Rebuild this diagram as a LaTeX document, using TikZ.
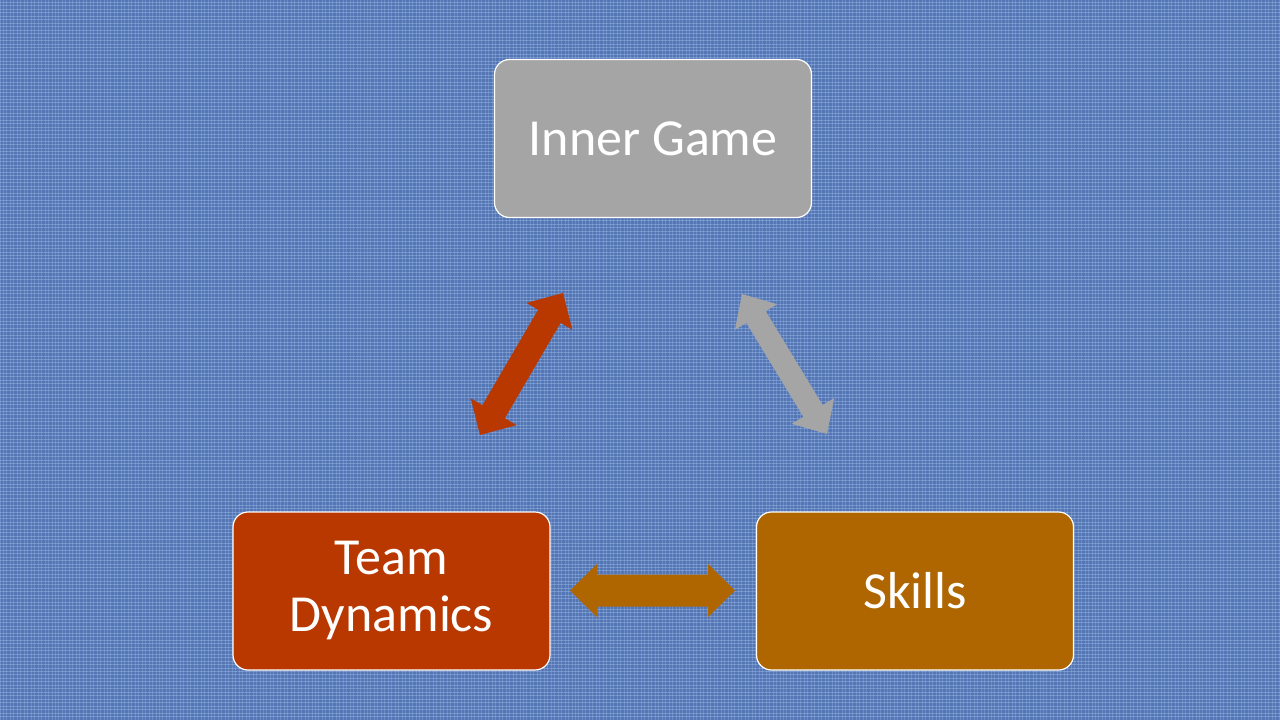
\documentclass[tikz,border=0pt]{standalone}
\usepackage{fontspec}
\setmainfont{Carlito}
\usetikzlibrary{calc,patterns.meta}
\definecolor{bgblue}{RGB}{84,118,180}
\definecolor{bglight}{RGB}{160,190,235}
\definecolor{boxgray}{RGB}{165,165,165}
\definecolor{boxred}{RGB}{184,56,0}
\definecolor{boxorange}{RGB}{176,102,0}
\tikzset{
  box/.style={draw=white, line width=0.9pt, rounded corners=11.25pt,
    minimum width=237.75pt, minimum height=118.5pt, inner sep=0pt,
    text=white, align=center,
    font=\fontsize{39}{42.75}\selectfont}
}
% #1 tip A, #2 tip B, #3 shaft half width, #4 head half width, #5 head length, #6 colour
\newcommand{\dblockarrow}[6]{%
  \fill[#6] (#1)
    -- ($(#1)!#5!(#2)!#4!90:(#2)$)
    -- ($(#1)!#5!(#2)!#3!90:(#2)$)
    -- ($(#2)!#5!(#1)!#3!-90:(#1)$)
    -- ($(#2)!#5!(#1)!#4!-90:(#1)$)
    -- (#2)
    -- ($(#2)!#5!(#1)!#4!90:(#1)$)
    -- ($(#2)!#5!(#1)!#3!90:(#1)$)
    -- ($(#1)!#5!(#2)!#3!-90:(#2)$)
    -- ($(#1)!#5!(#2)!#4!-90:(#2)$)
    -- cycle;}
\begin{document}
\begin{tikzpicture}[x=0.75pt,y=-0.75pt]
\useasboundingbox (0,0) rectangle (1280,720);
\fill[bgblue] (0,0) rectangle (1280,720);
\fill[pattern={Lines[angle=0,distance=2.6pt,line width=0.7pt]}, pattern color=bglight, opacity=0.45] (0,0) rectangle (1280,720);
\fill[pattern={Lines[angle=90,distance=2.6pt,line width=0.7pt]}, pattern color=bglight, opacity=0.3] (0,0) rectangle (1280,720);

\node[box, fill=boxgray] (inner) at (653,138.5) {Inner Game};
\node[box, fill=boxred] (team) at (391.5,591) {Team\\Dynamics};
\node[box, fill=boxorange] (skills) at (915,591) {Skills};

\coordinate (rA) at (563,293);
\coordinate (rB) at (480,435);
\coordinate (gA) at (742,294);
\coordinate (gB) at (827,434);
\coordinate (oA) at (570,590.5);
\coordinate (oB) at (735,590.5);

\dblockarrow{rA}{rB}{9.75pt}{19.9pt}{20.25pt}{boxred}
\dblockarrow{gA}{gB}{8.5pt}{18.6pt}{20.25pt}{boxgray}
\dblockarrow{oA}{oB}{12pt}{19.9pt}{20.25pt}{boxorange}
\end{tikzpicture}
\end{document}
